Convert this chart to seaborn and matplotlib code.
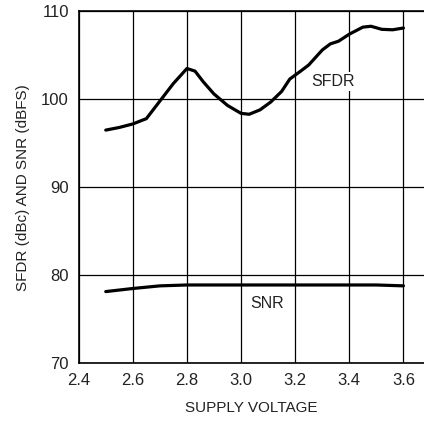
import matplotlib
matplotlib.use("Agg")
import matplotlib.pyplot as plt
from matplotlib import font_manager
import seaborn as sns
import pandas as pd

sfdr_x = [2.5, 2.55, 2.6, 2.65, 2.7, 2.75, 2.8, 2.83, 2.86, 2.9, 2.95, 3.0, 3.03, 3.07, 3.11,
          3.15, 3.18, 3.22, 3.25, 3.3, 3.33, 3.36, 3.4, 3.45, 3.48, 3.52, 3.56, 3.6]
sfdr_y = [96.5, 96.8, 97.2, 97.8, 99.8, 101.8, 103.5, 103.2, 102.0, 100.6, 99.3, 98.4, 98.3, 98.8, 99.7,
          100.9, 102.3, 103.2, 103.9, 105.6, 106.3, 106.6, 107.4, 108.2, 108.3, 107.95, 107.9, 108.1]
snr_x = [2.5, 2.6, 2.7, 2.8, 3.0, 3.2, 3.4, 3.5, 3.6]
snr_y = [78.15, 78.5, 78.8, 78.9, 78.9, 78.9, 78.9, 78.9, 78.8]
x_ticks = [2.4, 2.6, 2.8, 3.0, 3.2, 3.4, 3.6]
y_ticks = [70, 80, 90, 100, 110]

sns.set_style("white")
names = {f.name for f in font_manager.fontManager.ttflist}
if "Liberation Sans Narrow" in names:
    fam = "Liberation Sans Narrow"
    tick_fs, lab_fs, ann_fs = 13.5, 13.0, 13.5
else:
    fam = "Liberation Sans"
    tick_fs, lab_fs, ann_fs = 12.0, 11.0, 11.5
plt.rcParams['font.family'] = [fam, 'DejaVu Sans']

df = pd.concat([
    pd.DataFrame({"x": sfdr_x, "y": sfdr_y, "s": "SFDR"}),
    pd.DataFrame({"x": snr_x, "y": snr_y, "s": "SNR"}),
])

fig = plt.figure(figsize=(4.24, 4.21), dpi=100)
ax = fig.add_axes([78.7 / 424, 1 - 363.3 / 421, 1 - 78.7 / 424, (363.3 - 11.3) / 421])
sns.lineplot(data=df, x="x", y="y", units="s", estimator=None, color="black",
             linewidth=2.3, ax=ax, legend=False, sort=False, zorder=3)
ax.set_xlim(2.4, 3.676)
ax.set_ylim(70, 110)
ax.set_xticks(x_ticks)
ax.set_xticklabels([f"{v:.1f}" for v in x_ticks])
ax.set_yticks(y_ticks)
ax.grid(True, color="black", linewidth=0.9)
ax.set_axisbelow(True)
for s in ["left", "bottom", "top"]:
    ax.spines[s].set_visible(True)
    ax.spines[s].set_color("black")
    ax.spines[s].set_linewidth(1.2)
ax.spines["right"].set_visible(False)
ax.tick_params(axis="both", length=0, labelsize=tick_fs, colors="#222222")
ax.tick_params(axis="x", pad=7)
ax.tick_params(axis="y", pad=7)
ax.set_xlabel("SUPPLY VOLTAGE", fontsize=lab_fs, color="#222222", labelpad=9)
ax.set_ylabel("SFDR (dBc) AND SNR (dBFS)", fontsize=lab_fs, color="#222222", labelpad=8)
ax.text(3.338, 102.0, "SFDR", ha="center", va="center", fontsize=ann_fs, color="#222222",
        bbox=dict(facecolor="white", edgecolor="none", pad=1.5), zorder=2)
ax.text(3.095, 76.8, "SNR", ha="center", va="center", fontsize=ann_fs, color="#222222", zorder=2)
fig.savefig("out.png", dpi=100)
